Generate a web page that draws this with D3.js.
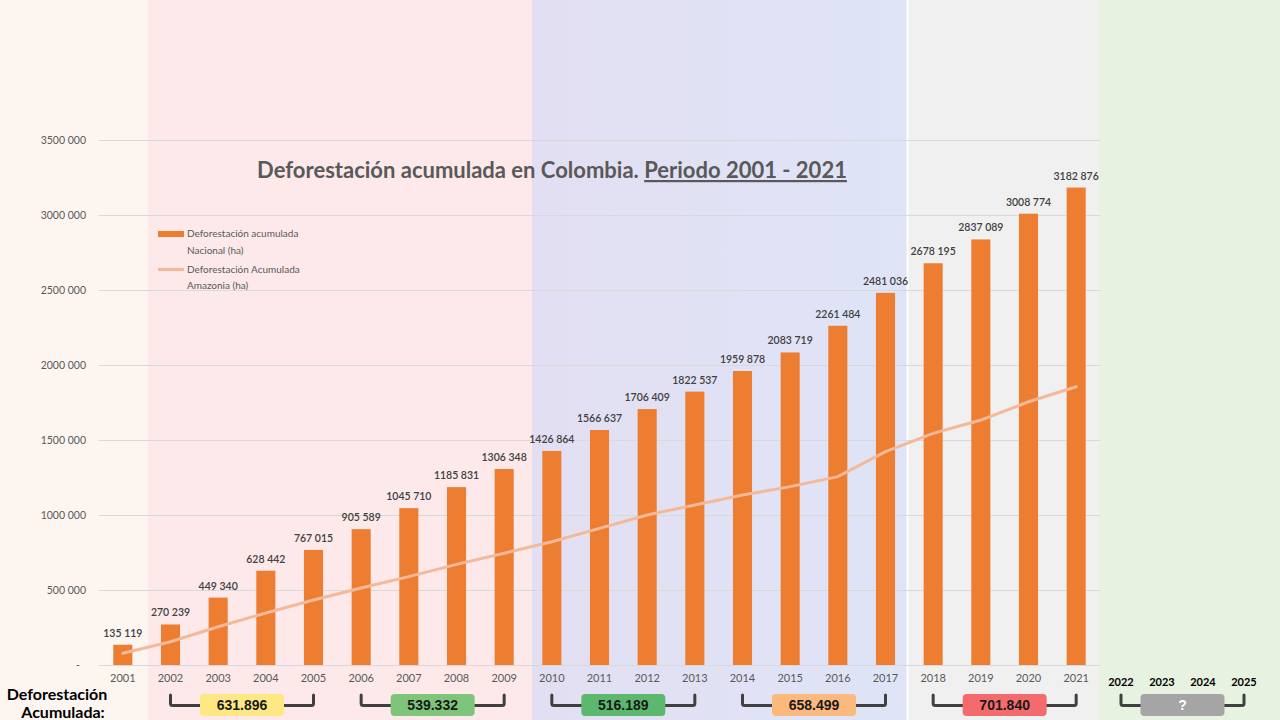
<!DOCTYPE html>
<html>
<head>
<meta charset="utf-8">
<script src="https://cdn.jsdelivr.net/npm/d3@7"></script>
<style>
  body { margin: 0; background: #fff; }
  svg { display: block; }
  text { font-family: Lato, "Open Sans", sans-serif; }
</style>
</head>
<body>
<svg id="chart" width="1280" height="720"></svg>
<script>
// Data
const years = ["2001","2002","2003","2004","2005","2006","2007","2008","2009","2010","2011",
               "2012","2013","2014","2015","2016","2017","2018","2019","2020","2021"];
const nacional = [135119, 270239, 449340, 628442, 767015, 905589, 1045710, 1185831, 1306348, 1426864,
                  1566637, 1706409, 1822537, 1959878, 2083719, 2261484, 2481036, 2678195, 2837089, 3008774, 3182876];
const amazonia = [78000, 155000, 255000, 347000, 433000, 513000, 589000, 671000, 745000, 822000,
                  911000, 1000000, 1067000, 1133000, 1189000, 1256000, 1422000, 1544000, 1633000, 1755000, 1855000];
const yTicks = [0, 500000, 1000000, 1500000, 2000000, 2500000, 3000000, 3500000];
const futureYears = ["2022", "2023", "2024", "2025"];

// Periods summarised under the axis
const periodStart = ["2002", "2006", "2010", "2014", "2018"];
const periodEnd   = ["2005", "2009", "2013", "2017", "2021"];
const periodLabel = ["631.896", "539.332", "516.189", "658.499", "701.840"];
const periodColor = ["#fee884", "#7ec57b", "#5cb86f", "#fcb97e", "#f36b6d"];

const svg = d3.select("#chart");

// Slide background panels
const defs = svg.append("defs");
const grad = defs.append("linearGradient").attr("id", "blueBand").attr("x1", "0").attr("x2", "1");
grad.append("stop").attr("offset", "0").attr("stop-color", "#e3dff2");
grad.append("stop").attr("offset", "1").attr("stop-color", "#dfe4f7");

const panels = [
  { x0: 0, x1: 148, fill: "#fdf5f0" },
  { x0: 148, x1: 532, fill: "#fde9e9" },
  { x0: 532, x1: 907, fill: "url(#blueBand)" },
  { x0: 907, x1: 1099, fill: "#f0f0f0" },
  { x0: 1099, x1: 1280, fill: "#e8f2e1" }
];
svg.selectAll("rect.panel").data(panels).join("rect")
  .attr("class", "panel")
  .attr("x", d => d.x0).attr("y", 0)
  .attr("width", d => d.x1 - d.x0).attr("height", 720)
  .attr("fill", d => d.fill);
svg.append("line").attr("x1", 907.5).attr("x2", 907.5).attr("y1", 0).attr("y2", 720)
  .attr("stroke", "#fff").attr("stroke-width", 2);

// Scales
const x = d3.scaleBand().domain(years).range([99, 1100]).paddingInner(0.6).paddingOuter(0.3);
const y = d3.scaleLinear().domain([0, 3500000]).range([665, 140]);
const fmt = v => v === 0 ? "-" : d3.format(",")(v).replace(/,/g, " ").replace(/^(\d) (\d{3}) /, "$1$2 ");

// Gridlines
svg.append("g").selectAll("line").data(yTicks).join("line")
  .attr("x1", 99).attr("x2", 1100)
  .attr("y1", d => Math.round(y(d)) + 0.5).attr("y2", d => Math.round(y(d)) + 0.5)
  .attr("stroke", "#d9d9d9").attr("stroke-width", 1);

// Y axis labels
const yAxis = svg.append("g").attr("transform", "translate(86,0)")
  .call(d3.axisLeft(y).tickValues(yTicks).tickSize(0).tickPadding(0).tickFormat(fmt));
yAxis.select(".domain").remove();
yAxis.selectAll("text").attr("fill", "#595959").style("font-size", "10.5px")
  .style("font-family", "Lato, sans-serif");
yAxis.selectAll(".tick").filter(d => d === 0).select("text").attr("dx", "-6");

// X axis labels
const xAxis = svg.append("g").attr("transform", "translate(0,674)")
  .call(d3.axisBottom(x).tickSize(0).tickPadding(0));
xAxis.select(".domain").remove();
xAxis.selectAll("text").attr("fill", "#595959").style("font-size", "11px")
  .style("font-family", "Lato, sans-serif");

// Bars
svg.append("g").selectAll("rect").data(nacional).join("rect")
  .attr("x", (d, i) => x(years[i]))
  .attr("y", d => y(d))
  .attr("width", x.bandwidth())
  .attr("height", d => y(0) - y(d))
  .attr("fill", "#ed7d31");

// Bar value labels
svg.append("g").selectAll("text").data(nacional).join("text")
  .attr("x", (d, i) => x(years[i]) + x.bandwidth() / 2)
  .attr("y", d => y(d) - 8)
  .attr("text-anchor", "middle")
  .attr("fill", "#404040")
  .style("font-size", "10.5px")
  .style("font-weight", "600")
  .text(d => fmt(d));

// Amazon line
const line = d3.line()
  .x((d, i) => x(years[i]) + x.bandwidth() / 2)
  .y(d => y(d));
svg.append("path").datum(amazonia)
  .attr("d", line)
  .attr("fill", "none")
  .attr("stroke", "#f4b999")
  .attr("stroke-width", 3)
  .attr("stroke-linecap", "round");

// Title
const title = svg.append("text").attr("x", 552).attr("y", 178)
  .attr("text-anchor", "middle").attr("fill", "#595959")
  .style("font-size", "22px").style("font-weight", "bold")
  .style("font-family", "Lato, sans-serif");
title.append("tspan").text("Deforestación acumulada en Colombia. ");
title.append("tspan").attr("text-decoration", "underline").text("Periodo 2001 - 2021");

// Legend
const legend = svg.append("g").attr("fill", "#595959").style("font-size", "10px");
legend.append("rect").attr("x", 158).attr("y", 231).attr("width", 26).attr("height", 6).attr("fill", "#ed7d31");
legend.append("text").attr("x", 187).attr("y", 237).text("Deforestación acumulada");
legend.append("text").attr("x", 187).attr("y", 254).text("Nacional (ha)");
legend.append("line").attr("x1", 158).attr("x2", 184).attr("y1", 269.5).attr("y2", 269.5)
  .attr("stroke", "#f4b999").attr("stroke-width", 3);
legend.append("text").attr("x", 187).attr("y", 273).text("Deforestación Acumulada");
legend.append("text").attr("x", 187).attr("y", 289).text("Amazonia (ha)");

// Bottom label
const bottom = svg.append("g").attr("fill", "#000")
  .style("font-family", "'Liberation Sans', Arial, sans-serif")
  .style("font-weight", "bold").style("font-size", "16px");
bottom.append("text").attr("x", 57).attr("y", 700).attr("text-anchor", "middle").text("Deforestación");
bottom.append("text").attr("x", 63).attr("y", 718).attr("text-anchor", "middle").text("Acumulada:");

// Future years
const xf = d3.scalePoint().domain(futureYears).range([1121, 1244]);
svg.append("g").selectAll("text").data(futureYears).join("text")
  .attr("x", d => xf(d)).attr("y", 686)
  .attr("text-anchor", "middle").attr("fill", "#000")
  .style("font-size", "11px").style("font-weight", "bold")
  .text(d => d);

// Brackets with period totals
const brackets = periodStart.map((s, i) => ({
  x0: x(s) + x.bandwidth() / 2,
  x1: x(periodEnd[i]) + x.bandwidth() / 2,
  label: periodLabel[i], color: periodColor[i], textColor: "#1a1a1a"
}));
brackets.push({ x0: xf("2022"), x1: xf("2025"), label: "?", color: "#a5a5a5", textColor: "#fff" });

const boxW = 84, boxH = 22, brTop = 695, brBase = 705.5;
const bg = svg.append("g");
brackets.forEach(b => {
  const cx = (b.x0 + b.x1) / 2;
  bg.append("path")
    .attr("d", `M${b.x0},${brTop} V${brBase - 2} Q${b.x0},${brBase} ${b.x0 + 2},${brBase} H${b.x1 - 2} Q${b.x1},${brBase} ${b.x1},${brBase - 2} V${brTop}`)
    .attr("fill", "none").attr("stroke", "#404040").attr("stroke-width", 3).attr("stroke-linecap", "round");
  bg.append("rect").attr("x", cx - boxW / 2).attr("y", 694).attr("width", boxW).attr("height", boxH)
    .attr("rx", 4).attr("fill", b.color);
  bg.append("text").attr("x", cx).attr("y", 710).attr("text-anchor", "middle")
    .attr("fill", b.textColor)
    .style("font-family", "'Liberation Sans', Arial, sans-serif")
    .style("font-weight", "bold").style("font-size", "14px")
    .text(b.label);
});
</script>
</body>
</html>
